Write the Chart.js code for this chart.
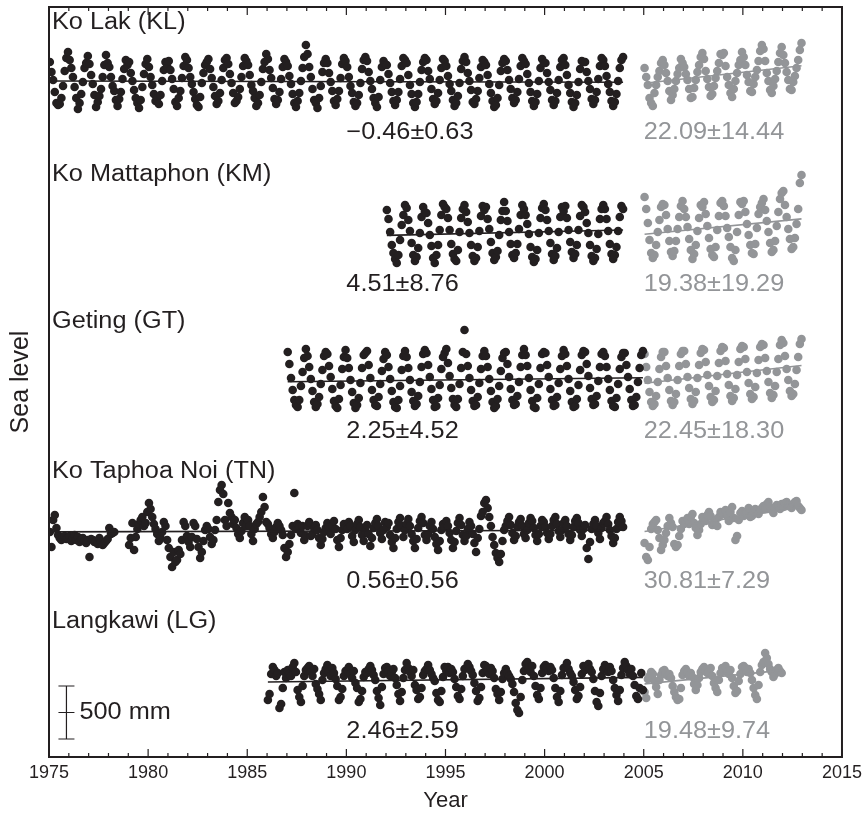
<!DOCTYPE html>
<html>
<head>
<meta charset="utf-8">
<script src="https://cdn.jsdelivr.net/npm/chart.js@4.4.0/dist/chart.umd.min.js"></script>
<style>
  html, body { margin: 0; padding: 0; background: #fff; }
  #wrap { width: 867px; height: 818px; }
</style>
</head>
<body>
<div id="wrap"><canvas id="chart" width="867" height="818"></canvas></div>
<script>
// stations, top to bottom
const stations = ["Ko Lak (KL)", "Ko Mattaphon (KM)", "Geting (GT)", "Ko Taphoa Noi (TN)", "Langkawi (LG)"];
// first year of the black record; grey record starts 2005
const blackStart = [1975, 1992, 1987, 1975, 1986];
const grayStart = 2005;
// trend rates and errors, mm/yr
const rateBlack = [-0.46, 4.51, 2.25, 0.56, 2.46];
const errBlack = [0.63, 8.76, 4.52, 0.56, 2.59];
const rateGray = [22.09, 19.38, 22.45, 30.81, 19.48];
const errGray = [14.44, 19.29, 18.30, 7.29, 9.74];
const xTicks = [1975, 1980, 1985, 1990, 1995, 2000, 2005, 2010, 2015];

// monthly sea level, mm (one row per year, Jan..Dec)
const klBlack = [
  210,110,30,-90,-200,-220,-210,-150,-30,120,250,310,
  230,150,60,-40,-150,-260,-200,-110,10,150,200,270,
  190,80,-10,-120,-240,-190,-130,-60,60,180,280,200,
  160,60,-30,-80,-170,-230,-160,-90,40,140,230,180,
  210,100,20,-70,-150,-200,-250,-170,-40,90,190,240,
  160,60,-20,-110,-180,-150,-210,-120,20,130,210,170,
  220,130,40,-60,-190,-230,-150,-80,50,170,260,230,
  150,60,-10,-90,-160,-220,-240,-140,0,100,180,210,
  240,140,50,-40,-130,-210,-180,-100,30,150,230,250,
  190,90,0,-100,-200,-180,-140,-60,60,170,250,220,
  180,80,-20,-80,-150,-230,-200,-120,10,140,210,290,
  240,130,50,-50,-160,-210,-170,-90,40,160,240,210,
  170,70,-10,-110,-200,-240,-180,-100,20,150,260,380,
  290,160,60,-60,-170,-200,-250,-150,-30,110,200,240,
  200,100,10,-80,-180,-220,-160,-80,50,190,250,220,
  160,60,-30,-100,-190,-230,-200,-120,0,140,230,260,
  220,110,20,-60,-150,-200,-240,-140,30,160,220,190,
  180,90,0,-90,-180,-220,-170,-90,40,170,250,230,
  200,80,-20,-110,-200,-240,-190,-110,10,130,210,250,
  230,120,40,-60,-160,-210,-180,-100,30,150,240,220,
  170,70,-10,-80,-170,-230,-200,-130,0,140,220,260,
  210,100,20,-70,-190,-210,-160,-80,50,160,230,210,
  180,80,-10,-100,-180,-240,-220,-150,-20,120,200,240,
  220,130,30,-60,-150,-200,-170,-90,40,170,250,220,
  190,90,0,-90,-180,-230,-190,-110,20,150,240,200,
  200,100,10,-70,-170,-220,-180,-100,30,160,230,250,
  180,80,-20,-100,-190,-240,-200,-120,10,140,220,210,
  210,110,20,-60,-160,-210,-170,-90,40,170,250,230,
  170,70,-10,-90,-180,-230,-190,-110,20,150,230,260
];
const klGray = [
  150,60,-20,-150,-200,-230,-100,-20,60,120,200,230,
  180,100,20,-80,-170,-120,-60,20,90,150,240,200,
  160,90,30,-60,-150,-140,-50,30,110,180,260,300,
  240,120,40,-40,-130,-110,-30,50,120,200,290,280,
  300,170,60,-20,-100,-140,-60,20,100,180,230,310,
  260,180,80,10,-80,-90,-10,60,130,220,320,380,
  340,220,100,20,-70,-100,-30,40,120,210,300,360,
  280,200,110,30,-60,-70,10,70,150,230,330,400
];
const kmBlack = [
  250,160,30,-100,-180,-240,-280,-200,-50,100,200,300,
  270,150,40,-80,-200,-260,-220,-130,20,180,280,230,
  220,120,0,-110,-230,-280,-200,-100,50,200,310,280,
  260,170,50,-90,-190,-240,-260,-150,30,170,260,300,
  230,130,20,-100,-210,-260,-230,-120,40,190,290,250,
  280,160,60,-70,-180,-250,-220,-160,0,150,240,330,
  240,140,30,-90,-200,-230,-180,-90,60,200,300,260,
  200,110,10,-120,-220,-270,-240,-150,20,170,270,310,
  250,150,40,-80,-190,-250,-210,-130,30,180,280,240,
  290,170,50,-70,-170,-230,-190,-100,50,190,300,280,
  230,120,20,-100,-210,-260,-230,-140,10,160,260,300,
  260,160,40,-90,-190,-240,-200,-120,40,180,290,260
];
const kmGray = [
  380,260,120,-50,-180,-230,-200,-100,30,150,280,310,
  300,200,60,-60,-170,-210,-160,-60,60,180,290,340,
  260,180,80,-40,-150,-240,-190,-100,40,170,300,280,
  330,210,90,-30,-140,-200,-220,-120,50,190,320,340,
  290,190,70,-20,-120,-230,-260,-150,30,200,330,310,
  340,230,110,0,-100,-180,-190,-90,70,210,280,320,
  360,250,140,30,-80,-170,-150,-60,90,230,360,420,
  440,300,180,60,-40,-140,-120,-30,110,260,520,600
];
const gtBlack = [
  300,180,40,-80,-180,-230,-250,-180,-40,100,240,330,
  260,150,30,-90,-200,-250,-220,-150,-20,120,260,300,
  280,160,50,-70,-190,-240,-260,-170,-30,130,250,320,
  240,140,20,-100,-210,-260,-230,-160,-10,140,270,290,
  310,170,40,-80,-180,-230,-240,-150,-20,110,230,300,
  270,150,30,-90,-200,-250,-260,-180,-40,120,260,310,
  250,140,20,-100,-190,-240,-220,-140,0,150,280,320,
  290,170,50,-70,-180,-250,-240,-160,-30,130,250,290,
  330,190,60,-60,-170,-230,-250,-170,-20,140,300,520,
  280,160,40,-80,-190,-240,-230,-150,-10,130,260,310,
  260,150,30,-90,-200,-260,-240,-170,-40,110,240,290,
  300,180,50,-70,-180,-230,-220,-140,0,150,270,330,
  270,160,40,-80,-190,-250,-260,-160,-20,140,280,300,
  290,170,50,-70,-180,-240,-230,-150,-10,130,260,320,
  280,160,30,-90,-200,-250,-240,-170,-30,120,270,310,
  300,180,60,-60,-170,-230,-220,-140,10,150,280,300,
  260,150,30,-80,-190,-240,-250,-160,-20,130,250,290,
  290,170,50,-70,-180,-240,-230,-150,0,140,270,310
];
const gtGray = [
  280,150,20,-100,-200,-240,-220,-140,0,130,250,300,
  300,160,40,-80,-190,-230,-200,-120,20,160,280,310,
  310,180,50,-60,-170,-220,-190,-100,40,170,290,330,
  320,200,70,-40,-150,-200,-180,-90,60,190,310,350,
  340,210,80,-30,-140,-190,-160,-70,70,200,330,360,
  350,230,100,-10,-120,-170,-150,-50,90,220,350,380,
  370,240,110,0,-110,-160,-130,-40,100,230,370,420,
  390,260,130,20,-90,-140,-120,-20,120,250,380,430
];
const tnBlack = [
  0,-150,120,170,40,-30,-60,-80,-50,-40,-70,-60,
  -40,-90,-60,-30,-80,-50,-100,-70,-60,-90,-110,-80,
  -250,-70,-80,-100,-90,-120,-60,-100,-130,-110,-90,-70,
  40,-20,-10,0,null,null,null,null,null,null,null,null,
  -130,-60,90,-180,-50,30,80,120,150,60,90,200,
  290,230,150,80,30,-20,-90,-60,0,100,60,-80,
  -160,-250,-350,-200,-300,-280,-180,-220,-80,100,60,-40,
  -100,-150,-50,90,60,-70,-150,-260,-200,-90,20,60,
  30,-50,-120,-80,20,120,300,420,470,380,120,60,
  290,190,150,80,120,40,-20,-60,10,90,150,60,
  120,60,-20,-90,30,80,100,150,200,350,250,100,
  80,40,-20,-60,0,50,90,60,20,-30,-160,-250,
  -200,-120,-30,60,390,30,80,50,-10,60,-80,-40,
  60,100,-40,-20,40,70,20,-60,-130,-70,0,40,
  90,50,-20,60,110,30,-80,-150,-60,20,80,40,
  30,100,60,-40,-100,20,80,120,50,-30,-90,10,
  70,-20,-140,-60,40,90,130,60,-10,-70,20,100,
  50,90,-30,-100,-160,-60,30,100,140,60,-50,20,
  80,130,60,-20,-90,-160,-70,40,110,150,90,-30,
  -80,-20,60,100,30,-50,-120,-180,-90,20,80,50,
  110,60,-10,-80,-160,-100,10,90,140,70,-30,-90,
  -40,30,100,60,-20,-110,-200,-60,30,160,200,290,
  320,240,150,60,-50,-130,-210,-260,-300,-220,-90,20,
  60,110,150,70,-10,-80,-40,50,100,130,60,-20,
  -60,20,90,140,110,40,-30,-90,-20,60,120,100,
  50,-10,-70,-20,60,120,150,80,10,-50,20,90,
  120,60,-20,-80,-30,50,110,140,90,20,-40,30,
  70,-160,-270,-100,30,80,120,60,-10,-70,40,90,
  110,150,80,20,-40,-110,-60,30,100,150,110,50
];
const tnGray = [
  -110,-250,-280,-150,30,80,100,120,20,-60,-180,-130,
  -80,-10,60,140,90,50,-120,-150,-130,-40,30,110,
  80,100,140,80,150,180,90,40,-30,20,80,150,
  130,110,170,200,160,70,100,120,60,150,200,180,
  190,220,160,110,200,250,140,-80,-40,120,190,210,
  160,190,200,240,150,160,200,230,210,180,220,240,
  260,230,280,300,250,220,190,240,270,260,230,280,
  250,290,300,270,260,240,280,300,310,260,240,220
];
const lgBlack = [
  -180,-120,80,150,120,60,90,-260,-220,-60,100,40,
  120,80,60,150,190,100,-80,-150,-200,-40,60,120,
  140,160,100,60,130,-20,-70,-120,-180,20,90,130,
  170,100,60,140,90,30,-40,-180,-150,-70,60,110,
  120,150,80,40,110,-10,-60,-200,-170,-90,50,100,
  90,130,160,120,70,20,-90,-160,-230,-50,80,140,
  150,110,60,100,130,40,-30,-120,-190,-100,40,120,
  190,140,100,60,120,-30,-80,-170,-150,-60,70,110,
  130,170,120,80,40,10,-110,-180,-200,-90,50,150,
  110,150,90,130,100,30,-50,-140,-170,-70,60,130,
  140,180,150,110,70,-10,-90,-190,-160,-50,90,170,
  160,120,80,140,110,40,-70,-120,-180,-100,30,90,
  130,90,60,30,-20,-100,-210,-280,-310,-150,20,110,
  180,200,140,100,160,60,-40,-130,-170,-60,90,150,
  170,140,110,150,120,40,-60,-150,-200,-90,70,140,
  150,190,130,90,60,0,-80,-170,-140,-50,80,160,
  120,160,180,130,100,30,-90,-200,-240,-110,60,130,
  170,140,100,150,110,20,-60,-130,-190,-80,70,140,
  200,160,120,80,130,60,-30,-140,-170,-60,90,-80
];
const lgGray = [
  -100,-160,30,60,100,80,10,-50,-120,20,70,110,
  120,90,60,80,40,-40,-100,-150,-180,-170,-60,70,
  110,130,100,60,90,50,-20,-80,-30,40,100,130,
  150,120,90,110,140,60,-10,-60,-100,20,90,140,
  130,160,100,80,120,40,-40,-110,-90,10,80,150,
  160,140,100,130,90,20,-60,-130,-170,-30,100,170,
  200,290,240,180,130,100,50,80,120,140,110,90
];

const blackSeries = [klBlack, kmBlack, gtBlack, tnBlack, lgBlack];
const graySeries = [klGray, kmGray, gtGray, tnGray, lgGray];

// vertical stacking of the five panels (mm added to each record)
const stackOffset = [6740, 5220, 3750, 2250, 750];
const BLACK = "#231f20";
const GREY = "#939598";
const FONT = "'Liberation Sans', Arial, Helvetica, sans-serif";

function toPoints(values, start, offset) {
  return values.map((v, i) => ({ x: start + (i + 0.5) / 12, y: v == null ? null : v + offset }));
}

// straight trend through the record mean with the published rate
function trendLine(values, start, rate, offset) {
  let st = 0, sv = 0, n = 0;
  values.forEach((v, i) => {
    if (v == null) return;
    st += start + (i + 0.5) / 12; sv += v; n++;
  });
  const tm = st / n, vm = sv / n;
  const t0 = start + 0.5 / 12, t1 = start + (values.length - 0.5) / 12;
  return [
    { x: t0, y: vm + rate * (t0 - tm) + offset },
    { x: t1, y: vm + rate * (t1 - tm) + offset }
  ];
}

function rateLabel(rate, err) {
  return (rate < 0 ? "\u2212" : "") + Math.abs(rate).toFixed(2) + "\u00b1" + err.toFixed(2);
}

const datasets = [];
stations.forEach((name, i) => {
  const off = stackOffset[i];
  datasets.push({
    label: name + " trend", data: trendLine(blackSeries[i], blackStart[i], rateBlack[i], off),
    showLine: true, borderColor: BLACK, borderWidth: 1.6, pointRadius: 0, order: 0
  });
  datasets.push({
    label: name + " trend 2005", data: trendLine(graySeries[i], grayStart, rateGray[i], off),
    showLine: true, borderColor: GREY, borderWidth: 1.6, pointRadius: 0, order: 0
  });
  datasets.push({
    label: name, data: toPoints(blackSeries[i], blackStart[i], off),
    backgroundColor: BLACK, borderWidth: 0, pointRadius: 4.3, order: 1
  });
  datasets.push({
    label: name + " 2005", data: toPoints(graySeries[i], grayStart, off),
    backgroundColor: GREY, borderWidth: 0, pointRadius: 4.3, order: 1
  });
});

// text with the slightly wide look of the original lettering
function wideText(ctx, str, x, y, color) {
  ctx.save();
  ctx.translate(x, y);
  ctx.scale(1.1, 1);
  ctx.fillStyle = color;
  ctx.textAlign = "left";
  ctx.textBaseline = "middle";
  ctx.fillText(str, 0, 0);
  ctx.restore();
}

const framePlugin = {
  id: "frame",
  afterDraw(chart) {
    const { ctx, chartArea: a, scales: { x, y } } = chart;
    ctx.save();
    ctx.strokeStyle = BLACK;
    ctx.lineWidth = 2;
    ctx.strokeRect(a.left, a.top, a.right - a.left, a.bottom - a.top);

    // inward tick marks, every year on x, every 1000 mm on y
    ctx.lineWidth = 1.2;
    ctx.beginPath();
    for (let yr = Math.ceil(x.min); yr <= x.max; yr++) {
      const px = x.getPixelForValue(yr);
      const len = yr % 5 === 0 ? 8 : 4;
      ctx.moveTo(px, a.bottom); ctx.lineTo(px, a.bottom - len);
      ctx.moveTo(px, a.top); ctx.lineTo(px, a.top + len);
    }
    y.ticks.forEach(t => {
      if (t.value <= 0 || t.value % 1000 !== 0) return;
      const py = y.getPixelForValue(t.value);
      ctx.moveTo(a.left, py); ctx.lineTo(a.left + 7, py);
      ctx.moveTo(a.right, py); ctx.lineTo(a.right - 7, py);
    });
    ctx.stroke();

    // station names and trend rates
    ctx.font = "23px " + FONT;
    stations.forEach((name, i) => {
      const off = stackOffset[i];
      wideText(ctx, name, x.getPixelForValue(1975.15), y.getPixelForValue(off + 605), BLACK);
      wideText(ctx, rateLabel(rateBlack[i], errBlack[i]), x.getPixelForValue(1990), y.getPixelForValue(off - 500), BLACK);
      wideText(ctx, rateLabel(rateGray[i], errGray[i]), x.getPixelForValue(2005), y.getPixelForValue(off - 500), GREY);
    });

    // 500 mm scale bar
    const bx = x.getPixelForValue(1975.88);
    const yTop = y.getPixelForValue(710), yBot = y.getPixelForValue(180), yMid = y.getPixelForValue(445);
    ctx.lineWidth = 1.2;
    ctx.beginPath();
    ctx.moveTo(bx, yTop); ctx.lineTo(bx, yBot);
    [yTop, yMid, yBot].forEach(py => { ctx.moveTo(bx - 8, py); ctx.lineTo(bx + 8, py); });
    ctx.stroke();
    wideText(ctx, "500 mm", bx + 13, yMid, BLACK);
    ctx.restore();
  }
};

new Chart(document.getElementById("chart"), {
  type: "scatter",
  data: { datasets },
  options: {
    responsive: false,
    animation: false,
    devicePixelRatio: 1,
    layout: { padding: { top: 7, right: 0, left: 0, bottom: 0 } },
    plugins: { legend: { display: false }, tooltip: { enabled: false } },
    scales: {
      x: {
        type: "linear", min: 1975, max: 2015,
        afterFit: s => { s.height = 61; },
        afterBuildTicks: s => { s.ticks = xTicks.map(v => ({ value: v })); },
        grid: { display: false, drawTicks: false },
        border: { display: false },
        ticks: { color: BLACK, font: { family: FONT, size: 18 }, padding: 5, maxRotation: 0, callback: v => String(v) },
        title: { display: true, text: "Year", color: BLACK, font: { family: FONT, size: 22 }, padding: { top: 4, bottom: 4 } }
      },
      y: {
        min: 0, max: 7500,
        afterFit: s => { s.width = 49; },
        grid: { display: false, drawTicks: false },
        border: { display: false },
        ticks: { stepSize: 1000, display: false },
        title: { display: true, text: "Sea level", color: BLACK, font: { family: FONT, size: 25 }, padding: { top: 6, bottom: 4 } }
      }
    }
  },
  plugins: [framePlugin]
});
</script>
</body>
</html>
